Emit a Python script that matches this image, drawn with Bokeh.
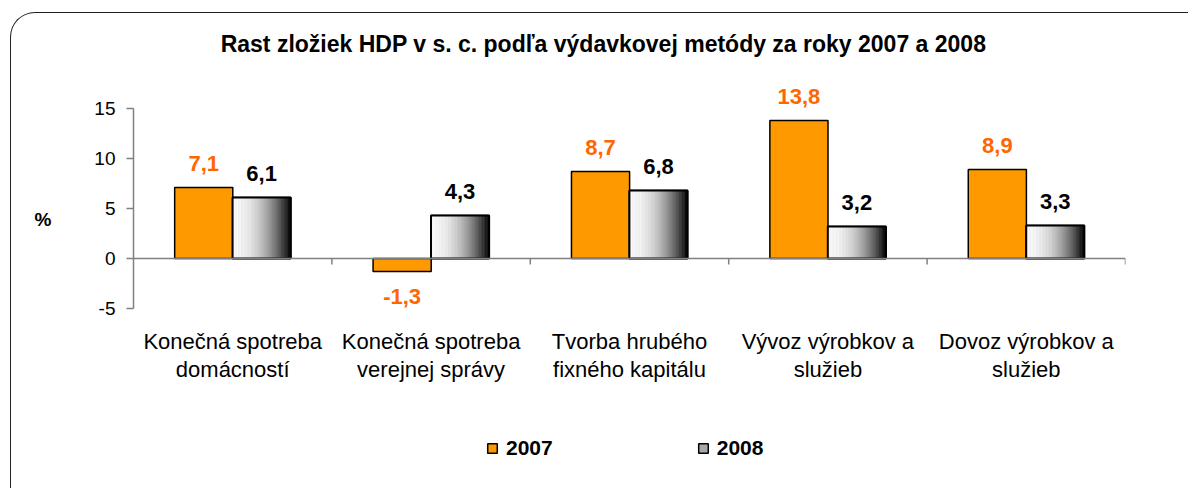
import numpy as np
from bokeh.plotting import figure
from bokeh.models import (Range1d, FixedTicker, Span, Label, LabelSet, ColumnDataSource,
                          Legend, LegendItem, InlineStyleSheet)
from bokeh.core.properties import value
from bokeh.embed import file_html
from bokeh.resources import INLINE

# ---- data ----
categories = ["Konečná spotreba\ndomácností",
              "Konečná spotreba\nverejnej správy",
              "Tvorba hrubého\nfixného kapitálu",
              "Vývoz výrobkov a\nslužieb",
              "Dovoz výrobkov a\nslužieb"]
values_2007 = [7.1, -1.3, 8.7, 13.8, 8.9]
values_2008 = [6.1, 4.3, 6.8, 3.2, 3.3]
series_names = ["2007", "2008"]
y_ticks = [-5, 0, 5, 10, 15]
y_tick_labels = ["-5", "0", "5", "10", "15"]
title_text = "Rast zložiek HDP v s. c. podľa výdavkovej metódy za roky 2007 a 2008"
y_label = "%"

FONT = "Liberation Sans"
ORANGE = "#FF9900"
LABEL_ORANGE = "#FF6600"
BAR_W = 0.293
OFF = 0.146

n = len(categories)
xc = np.arange(n)

# frame spans the whole height; the value axis is bounded to -5..15
p = figure(width=1188, height=488, x_range=Range1d(-0.5, n - 0.5), y_range=Range1d(-23.0, 25.8),
           output_backend="svg", toolbar_location=None, x_axis_location=None,
           min_border_left=133, min_border_right=63, min_border_top=0, min_border_bottom=0)
p.stylesheets = [InlineStyleSheet(css="""
:host::after { content: ""; position: absolute; left: 10px; top: 12px; width: 1178px; height: 476px;
  border-top: 1.5px solid #222; border-left: 1.5px solid #222; border-top-left-radius: 25px;
  pointer-events: none; box-sizing: border-box; }
""")]
p.outline_line_color = None
p.grid.visible = False

# zero line
p.add_layout(Span(location=0, dimension="width", line_color="#808080", line_width=1.5))

# category boundary ticks on the zero line
bx = np.arange(n) + 0.5
p.segment(x0=bx, y0=np.zeros(n), x1=bx, y1=np.full(n, -0.6), line_color="#808080", line_width=1.5)

# 2007 bars
src07 = ColumnDataSource(dict(x=xc - OFF, top=values_2007))
r07 = p.vbar(x="x", top="top", bottom=0, width=BAR_W, source=src07,
             fill_color=ORANGE, line_color="black", line_width=1.5)

# 2008 bars: base (used as legend key), then gradient strips, then outline
src08 = ColumnDataSource(dict(x=xc + OFF, top=values_2008))
r08 = p.vbar(x="x", top="top", bottom=0, width=BAR_W, source=src08,
             fill_color="#a8a8a8", line_color="black", line_width=1.5)
NS = 40
lefts, rights, tops, cols = [], [], [], []
for i, v in enumerate(values_2008):
    x0 = xc[i] + OFF - BAR_W / 2
    edges = np.linspace(x0, x0 + BAR_W, NS + 1)
    for k in range(NS):
        t = (k + 0.5) / NS
        g = int(round(250 * (1 - t ** 2.1)))
        lefts.append(edges[k]); rights.append(edges[k + 1]); tops.append(v)
        cols.append("#%02x%02x%02x" % (g, g, g))
p.quad(left=lefts, right=rights, top=tops, bottom=0, fill_color=cols, line_color=cols, line_width=0.5)
p.vbar(x="x", top="top", bottom=0, width=BAR_W, source=src08,
       fill_color=None, line_color="black", line_width=2)

# data labels
def lab_source(xs, vals):
    return ColumnDataSource(dict(
        x=list(xs), y=list(vals),
        text=[("%.1f" % v).replace(".", ",") for v in vals],
        off=[24 if v >= 0 else -25 for v in vals]))

for xs, vals, col in [(xc - OFF, values_2007, LABEL_ORANGE), (xc + OFF, values_2008, "black")]:
    p.add_layout(LabelSet(x="x", y="y", text="text", y_offset="off", source=lab_source(xs, vals),
                          text_align="center", text_baseline="middle", text_font=value(FONT),
                          text_font_size="22px", text_font_style="bold", text_color=col))

# category labels under the value axis range
p.text(x=xc, y=np.full(n, -7.0), text=categories, text_align="center", text_baseline="top",
       text_font=value(FONT), text_font_size="22px", text_color="black", text_line_height=1.15)

# value axis
p.yaxis.ticker = FixedTicker(ticks=y_ticks)
p.yaxis.major_label_overrides = dict(zip(y_ticks, y_tick_labels))
p.yaxis.bounds = (-5, 15)
p.yaxis.minor_tick_line_color = None
p.yaxis.major_tick_out = 7
p.yaxis.major_tick_in = 0
p.yaxis.axis_line_color = "#808080"
p.yaxis.axis_line_width = 1.5
p.yaxis.major_tick_line_color = "#808080"
p.yaxis.major_tick_line_width = 1.5
p.yaxis.major_label_text_font = FONT
p.yaxis.major_label_text_font_size = "19px"
p.yaxis.major_label_text_color = "black"
p.yaxis.major_label_standoff = 11
p.yaxis.axis_label = y_label + "\n\n"
p.yaxis.axis_label_orientation = "horizontal"
p.yaxis.axis_label_text_font = FONT
p.yaxis.axis_label_text_font_size = "19px"
p.yaxis.axis_label_text_font_style = "bold"
p.yaxis.axis_label_text_color = "black"
p.yaxis.axis_label_standoff = 40

# title
p.add_layout(Label(x=470, y=445, x_units="screen", y_units="screen", text=title_text,
                   text_align="center", text_baseline="middle", text_font=FONT,
                   text_font_size="23px", text_font_style="bold", text_color="black"))

legend = Legend(items=[LegendItem(label=series_names[0], renderers=[r07]),
                       LegendItem(label=series_names[1], renderers=[r08])],
                orientation="horizontal", location=(353, 28),
                glyph_width=12, glyph_height=12, label_standoff=8, spacing=144,
                padding=0, margin=0, border_line_color=None, background_fill_alpha=0,
                label_text_font=FONT, label_text_font_size="21px", label_text_font_style="bold",
                label_text_color="black")
p.add_layout(legend, "center")

open("out.html", "w").write(file_html(p, INLINE))
